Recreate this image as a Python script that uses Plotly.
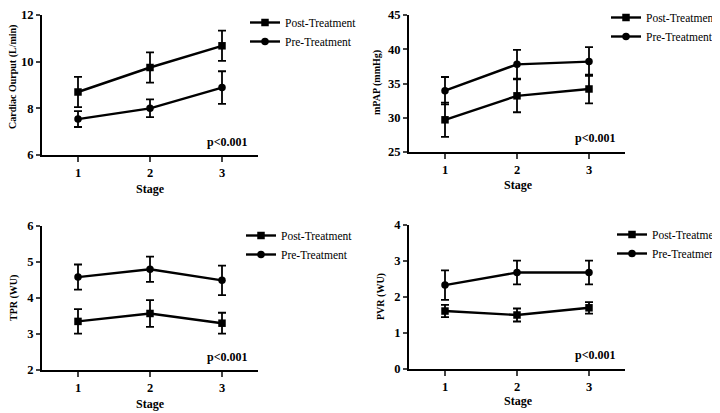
import plotly.graph_objects as go

# The page shows the figure with an 8px body margin; lay out in page pixels
PAGE_W, PAGE_H, OFF = 720, 413, 8
W, H = PAGE_W - OFF, PAGE_H - OFF


def fx(px):
    return (px - OFF) / W


def fy(py):
    return 1 - (py - OFF) / H


stages = [1, 2, 3]
series_names = ["Post-Treatment", "Pre-Treatment"]

co_post = [8.70, 9.75, 10.68]
co_post_err = [0.65, 0.65, 0.65]
co_pre = [7.54, 8.00, 8.89]
co_pre_err = [0.34, 0.38, 0.70]

mpap_post = [29.7, 33.2, 34.2]
mpap_post_err = [2.5, 2.4, 2.1]
mpap_pre = [33.95, 37.8, 38.2]
mpap_pre_err = [2.0, 2.1, 2.1]

tpr_post = [3.35, 3.57, 3.30]
tpr_post_err = [0.34, 0.37, 0.29]
tpr_pre = [4.58, 4.80, 4.49]
tpr_pre_err = [0.35, 0.35, 0.41]

pvr_post = [1.61, 1.50, 1.70]
pvr_post_err = [0.17, 0.18, 0.16]
pvr_pre = [2.33, 2.68, 2.68]
pvr_pre_err = [0.41, 0.33, 0.33]

panels = [
    dict(post=co_post, post_err=co_post_err, pre=co_pre, pre_err=co_pre_err,
         ytitle="Cardiac Ourput (L/min)", yrange=[6, 12], dtick=2,
         px=(42, 258), py=(15, 155), leg=(245, 8), ptxt=(228, 142),
         ytpos=(13, 77), xtpos=(150, 189)),
    dict(post=mpap_post, post_err=mpap_post_err, pre=mpap_pre, pre_err=mpap_pre_err,
         ytitle="mPAP (mmHg)", yrange=[25, 45], dtick=5,
         px=(409, 625), py=(15, 152), leg=(606, 3), ptxt=(595, 138),
         ytpos=(377, 83), xtpos=(518, 185)),
    dict(post=tpr_post, post_err=tpr_post_err, pre=tpr_pre, pre_err=tpr_pre_err,
         ytitle="TPR (WU)", yrange=[2, 6], dtick=1,
         px=(42, 258), py=(226, 370), leg=(241, 221), ptxt=(227, 357),
         ytpos=(14, 298), xtpos=(150, 404)),
    dict(post=pvr_post, post_err=pvr_post_err, pre=pvr_pre, pre_err=pvr_pre_err,
         ytitle="PVR (WU)", yrange=[0, 4], dtick=1,
         px=(409, 625), py=(225, 369), leg=(612, 220), ptxt=(595, 355),
         ytpos=(381, 297), xtpos=(518, 401)),
]

SERIF = "Liberation Serif"
fig = go.Figure()
layout = dict(
    width=W, height=H, margin=dict(l=0, r=0, t=0, b=0, autoexpand=False),
    paper_bgcolor="white", plot_bgcolor="white",
    font=dict(family=SERIF, color="black"),
    annotations=[],
)

for i, p in enumerate(panels):
    n = "" if i == 0 else str(i + 1)
    xa, ya = "x" + n, "y" + n
    legname = "legend" + n
    for name, vals, errs, sym in [
        (series_names[0], p["post"], p["post_err"], "square"),
        (series_names[1], p["pre"], p["pre_err"], "circle"),
    ]:
        fig.add_trace(go.Scatter(
            x=stages, y=vals, name=name, mode="lines+markers",
            xaxis=xa, yaxis=ya, legend=legname,
            line=dict(color="black", width=2.4),
            marker=dict(symbol=sym, size=7.5, color="black"),
            error_y=dict(type="data", array=errs, visible=True,
                         color="black", thickness=1.8, width=4),
        ))
    x0, x1 = p["px"]
    y0, y1 = p["py"]
    layout["xaxis" + n] = dict(
        domain=[fx(x0), fx(x1)], anchor=ya, range=[0.5, 3.5],
        tickvals=stages, ticks="outside", ticklen=5, tickwidth=2,
        showline=True, linewidth=2.2, linecolor="black", showgrid=False,
        zeroline=False, fixedrange=True, automargin=False,
        ticklabeloverflow="allow",
        tickfont=dict(family=SERIF, size=12.5, color="black", weight="bold"),
    )
    layout["yaxis" + n] = dict(
        domain=[fy(y1), fy(y0)], anchor=xa, range=p["yrange"],
        dtick=p["dtick"], tick0=p["yrange"][0],
        ticks="outside", ticklen=4, tickwidth=2,
        showline=True, linewidth=2.2, linecolor="black", showgrid=False,
        zeroline=False, fixedrange=True, automargin=False,
        ticklabeloverflow="allow",
        tickfont=dict(family=SERIF, size=12.5, color="black", weight="bold"),
    )
    lx, ly = p["leg"]
    layout[legname] = dict(
        x=fx(lx), y=fy(ly), xanchor="left", yanchor="top",
        bgcolor="rgba(0,0,0,0)", font=dict(family=SERIF, size=11.5, color="black"),
        itemwidth=30, tracegroupgap=0,
    )
    tx, ty = p["ptxt"]
    layout["annotations"].append(dict(
        text="<b>p<0.001</b>", x=fx(tx), y=fy(ty), xref="paper", yref="paper",
        xanchor="center", yanchor="middle", showarrow=False,
        font=dict(family=SERIF, size=12, color="black"),
    ))
    ax_, ay_ = p["ytpos"]
    layout["annotations"].append(dict(
        text="<b>" + p["ytitle"] + "</b>", x=fx(ax_), y=fy(ay_),
        xref="paper", yref="paper", xanchor="center", yanchor="middle",
        textangle=-90, showarrow=False,
        font=dict(family=SERIF, size=10, color="black"),
    ))
    bx, by = p["xtpos"]
    layout["annotations"].append(dict(
        text="<b>Stage</b>", x=fx(bx), y=fy(by), xref="paper", yref="paper",
        xanchor="center", yanchor="middle", showarrow=False,
        font=dict(family=SERIF, size=12, color="black"),
    ))

fig.update_layout(**layout)
fig.write_html("out.html")
